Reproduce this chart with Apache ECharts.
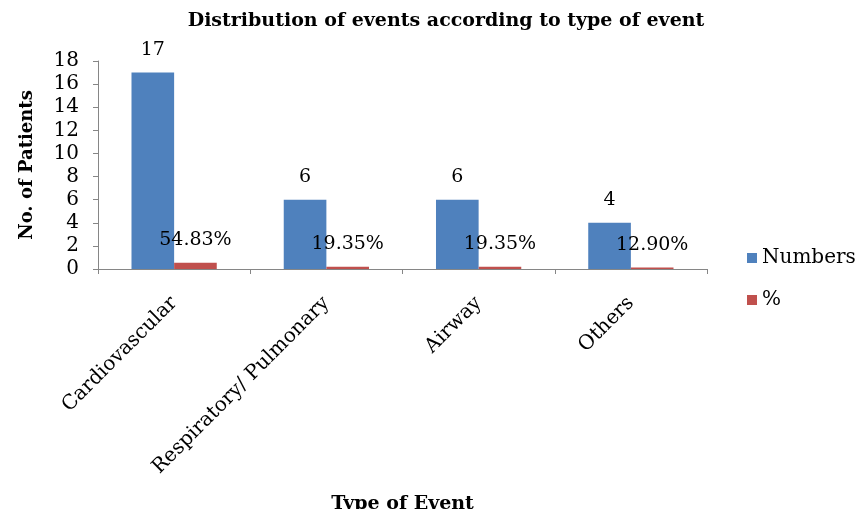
<!DOCTYPE html>
<html><head><meta charset="utf-8">
<script src="https://cdn.jsdelivr.net/npm/echarts@6/dist/echarts.min.js"></script>
<style>html,body{margin:0;padding:0;background:#fff}#c{width:860px;height:509px}</style>
</head><body><div id="c"></div>
<script>
const categories = ['Cardiovascular', 'Respiratory/ Pulmonary', 'Airway', 'Others'];
const numbers = [17, 6, 6, 4];
const percents = [0.5483, 0.1935, 0.1935, 0.1290];
const yTicks = [0, 2, 4, 6, 8, 10, 12, 14, 16, 18];

const FONT = '"DejaVu Serif", "Liberation Serif", serif';
const chart = echarts.init(document.getElementById('c'));
chart.setOption({
  backgroundColor: '#fff',
  animation: false,
  title: {
    text: 'Distribution of events according to type of event',
    left: 441, top: 7, textAlign: 'center',
    textStyle: { fontFamily: FONT, fontWeight: 'bold', fontSize: 19, color: '#000' }
  },
  legend: {
    orient: 'vertical', left: 742, top: 242,
    itemWidth: 10, itemHeight: 10, itemGap: 20,
    icon: 'rect',
    textStyle: { fontFamily: FONT, fontSize: 20, color: '#000', height: 22, lineHeight: 22 },
    data: ['Numbers', '%']
  },
  grid: { left: 98, right: 153, top: 61, bottom: 240, containLabel: false, outerBoundsMode: 'none' },
  xAxis: {
    type: 'category', data: categories,
    name: 'Type of Event', nameLocation: 'middle', nameGap: 226,
    nameTextStyle: { fontFamily: FONT, fontWeight: 'bold', fontSize: 19, color: '#000' },
    axisLine: { lineStyle: { color: '#868686' } },
    axisTick: { show: true, length: 5, lineStyle: { color: '#868686' } },
    axisLabel: { rotate: 45, margin: 31, fontFamily: FONT, fontSize: 20, color: '#000' }
  },
  yAxis: {
    type: 'value', min: yTicks[0], max: yTicks[yTicks.length - 1], interval: 2,
    name: 'No. of Patients', nameLocation: 'middle', nameGap: 62,
    nameTextStyle: { fontFamily: FONT, fontWeight: 'bold', fontSize: 18, color: '#000' },
    axisLine: { show: true, lineStyle: { color: '#868686' } },
    axisTick: { show: true, length: 5, lineStyle: { color: '#868686' } },
    splitLine: { show: false },
    axisLabel: { margin: 19, fontFamily: FONT, fontSize: 20, color: '#000' }
  },
  series: [
    {
      name: 'Numbers', type: 'bar', data: numbers,
      barGap: '0%', barCategoryGap: '44%',
      itemStyle: { color: '#4F81BD' },
      label: { show: true, position: 'top', distance: 13, fontFamily: FONT, fontSize: 19, color: '#000' }
    },
    {
      name: '%', type: 'bar', data: percents,
      itemStyle: { color: '#C0504D' },
      label: {
        show: true, position: 'top', distance: 13, fontFamily: FONT, fontSize: 19, color: '#000',
        formatter: p => (p.value * 100).toFixed(2) + '%'
      }
    }
  ]
});
</script></body></html>
